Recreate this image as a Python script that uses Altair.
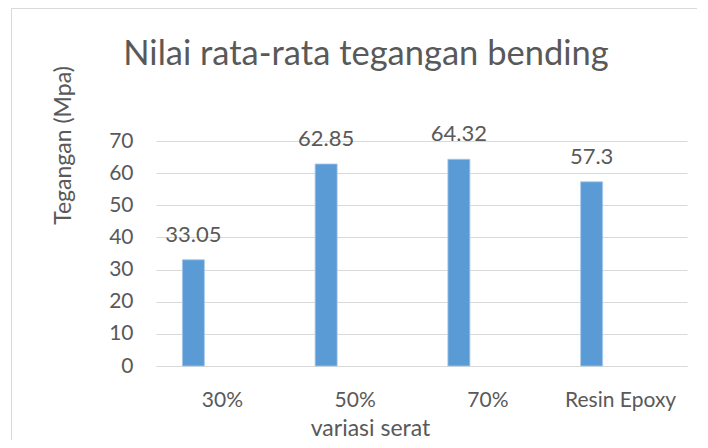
import altair as alt
import pandas as pd

categories = ["30%", "50%", "70%", "Resin Epoxy"]
values = [33.05, 62.85, 64.32, 57.3]
labels = ["33.05", "62.85", "64.32", "57.3"]
y_ticks = [0, 10, 20, 30, 40, 50, 60, 70]

chart_title = "Nilai rata-rata tegangan bending"
x_title = "variasi serat"
y_title = "Tegangan (Mpa)"

df = pd.DataFrame({"cat": categories, "val": values, "lab": labels})

FONT = "Lato"
TXT = "#595959"
GRID = "#d9d9d9"

W, H = 531, 225

x_enc = alt.X("cat:N", sort=categories,
              scale=alt.Scale(paddingInner=0, paddingOuter=0),
              axis=alt.Axis(title=x_title, labelAngle=0, ticks=False,
                            labelPadding=40, labelBaseline="alphabetic",
                            labelFontSize=21, labelColor=TXT,
                            labelFont=FONT, domainColor=GRID, domainWidth=1,
                            titleFont=FONT, titleFontSize=23, titleColor=TXT,
                            titleFontWeight="normal", titleX=214, titleY=69,
                            titleBaseline="alphabetic", titleAlign="center",
                            grid=False, labelOverlap=False))
y_enc = alt.Y("val:Q", scale=alt.Scale(domain=[0, 70], nice=False),
              axis=alt.Axis(title=y_title, values=y_ticks, ticks=False,
                            domain=False, labelPadding=23, labelFontSize=21,
                            labelColor=TXT, labelFont=FONT, gridColor=GRID,
                            gridWidth=1, labelOverlap=False,
                            titleFont=FONT, titleFontSize=23,
                            titleColor=TXT, titleFontWeight="normal",
                            titleX=-86, titleY=4, titleBaseline="alphabetic",
                            titleAlign="center", titleAngle=-90))

bars = alt.Chart(df).mark_bar(width=22, xOffset=-29, color="#5b9bd5",
                              stroke="#a6c8ea", strokeWidth=0.8).encode(
    x=x_enc, y=y_enc)

texts = alt.Chart(df).mark_text(xOffset=-29, dy=-18, baseline="alphabetic",
                                font=FONT, fontSize=22, color=TXT).encode(
    x=x_enc, y=y_enc, text="lab:N")

title_df = pd.DataFrame({"t": [chart_title]})
title = alt.Chart(title_df).mark_text(font=FONT, fontSize=34.5, color=TXT,
                                      baseline="alphabetic", align="center").encode(
    x=alt.value(210), y=alt.value(-76), text="t:N")

border_df = pd.DataFrame({"d": [1]})
top_line = alt.Chart(border_df).mark_rule(color=GRID, strokeWidth=1).encode(
    x=alt.value(-144.5), x2=alt.value(W + 20), y=alt.value(-132.5))
left_line = alt.Chart(border_df).mark_rule(color=GRID, strokeWidth=1).encode(
    x=alt.value(-144.5), y=alt.value(-132.5), y2=alt.value(H + 80))

chart = alt.layer(bars, texts, title, top_line, left_line).properties(
    width=W, height=H,
    background="white",
    autosize=alt.AutoSizeParams(type="none"),
    padding={"left": 148, "top": 133, "right": 10, "bottom": 74},
).configure_view(strokeWidth=0, stroke="transparent")

chart.save("out.html", embed_options={"renderer": "svg", "actions": False})
